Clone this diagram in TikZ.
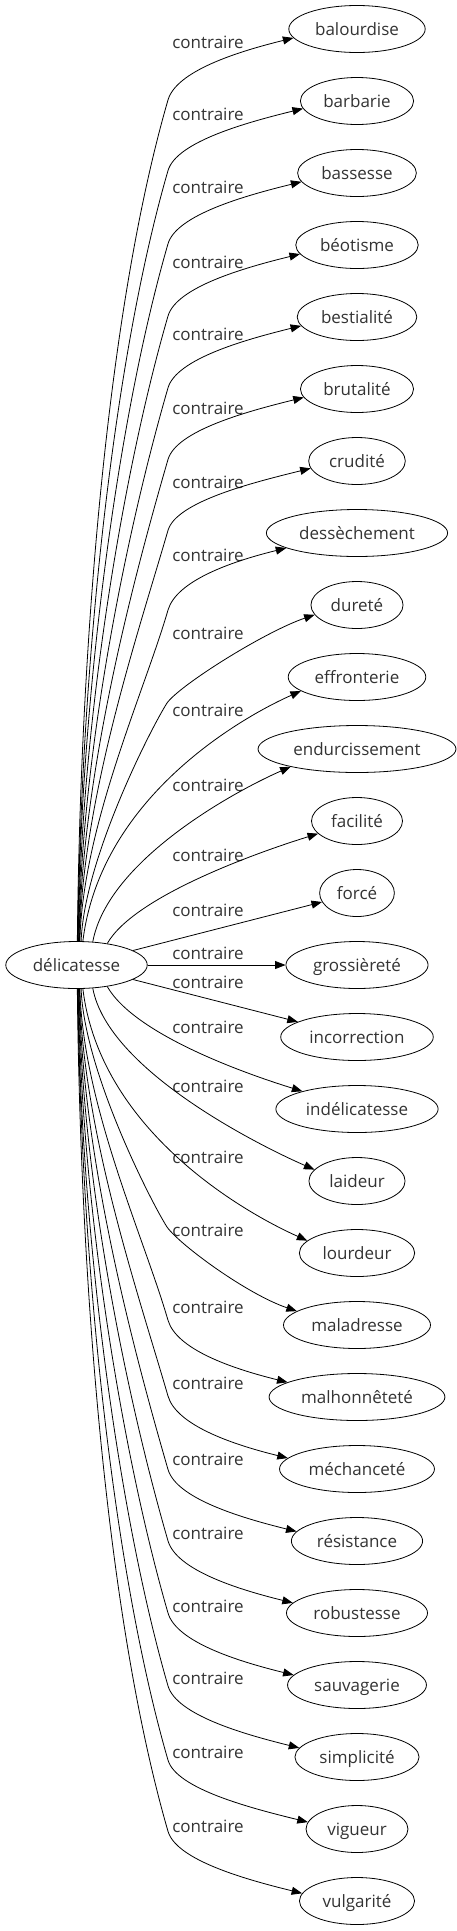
\documentclass[tikz,border=0pt]{standalone}
\usepackage{fontspec}
\setmainfont{Open Sans}
\usetikzlibrary{arrows.meta,calc,shapes.geometric}
\tikzset{
  word/.style={ellipse, draw, line width=0.8pt, inner xsep=6.3pt, inner ysep=1pt,
    minimum height=47pt, text height=14pt, text depth=2pt,
    font=\fontsize{17}{20}\selectfont, text=black!80},
  lab/.style={inner sep=0pt, text height=14pt, text depth=2pt,
    font=\fontsize{17}{20}\selectfont, text=black!80},
  edge/.style={line width=0.8pt, -{Triangle[length=10.5pt,width=8pt]}},
}
\newcommand\upedge[3]{\draw[edge] let \p1=(d.#2), \p2=(#1.#3), \n1={(\y2)-62-(\y1)} in
  (\p1) .. controls ({\x1+3},{\y1+0.35*\n1}) and ({168-0.0725*\n1},{\y2-62-0.25*\n1})
  .. (168,{\y2-62}) .. controls (176.4,{\y2-62+28.8}) and ({\x2-57},{\y2-14}) .. (\p2);}
\newcommand\lowedge[3]{\draw[edge] let \p1=(d.#2), \p2=(#1.#3), \n1={(\y1)-(\y2)-62} in
  (\p1) .. controls ({\x1+3},{\y1-0.35*\n1}) and ({168-0.0725*\n1},{\y2+62+0.25*\n1})
  .. (168,{\y2+62}) .. controls (176.4,{\y2+62-28.8}) and ({\x2-57},{\y2+14}) .. (\p2);}
\begin{document}
\begin{tikzpicture}[x=1pt,y=1pt]
\useasboundingbox (0,0) rectangle (457,-1931);
\node[word] (d) at (76.5,-965) {délicatesse};
\foreach \i/\w in {0/balourdise,1/barbarie,2/bassesse,3/béotisme,4/bestialité,5/brutalité,
  6/crudité,7/dessèchement,8/dureté,9/effronterie,10/endurcissement,11/facilité,12/forcé,
  13/grossièreté,14/incorrection,15/indélicatesse,16/laideur,17/lourdeur,18/maladresse,
  19/malhonnêteté,20/méchanceté,21/résistance,22/robustesse,23/sauvagerie,24/simplicité,
  25/vigueur,26/vulgarité}
  \node[word] (t\i) at (357,{-29-72*\i}) {\w};
\foreach \i/\yy in {0/42,1/114,2/187,3/262,4/334,5/408,6/482,7/555,8/633,9/710,10/785,
  11/855,12/910,13/953,14/982,15/1027,16/1086,17/1157,18/1230,19/1307,20/1383,21/1459,
  22/1533,23/1606,24/1678,25/1752,26/1826}
  \node[lab] (l\i) at (208,-\yy) {contraire};
% upper far edges
\upedge{t0}{88}{188}
\upedge{t1}{87}{188}
\upedge{t2}{87}{189}
\upedge{t3}{86}{189}
\upedge{t4}{85}{189}
\upedge{t5}{84}{189}
\upedge{t6}{83}{189}
\upedge{t7}{82}{192}
% upper near edges
\draw[edge] (d.79) .. controls (84,-860) and (150,-730) .. (167,-703)
  .. controls (180,-685) and +(-50,-17) .. (t8.193);
\draw[edge] (d.75) .. controls (100,-800) and +(-64,-28.5) .. (t9.194);
\draw[edge] (d.55) .. controls (108,-860) and +(-55,-24) .. (t10.195);
\draw[edge] (d.35) .. controls (135,-895) and +(-55,-17) .. (t11.198);
% straight edges
\draw[edge] (d) -- (t12);
\draw[edge] (d) -- (t13);
\draw[edge] (d) -- (t14);
% lower near edges
\draw[edge] (d.325) .. controls (135,-1035) and +(-55,17) .. (t15.162);
\draw[edge] (d.305) .. controls (108,-1070) and +(-55,24) .. (t16.165);
\draw[edge] (d.285) .. controls (100,-1130) and +(-64,28.5) .. (t17.166);
\draw[edge] (d.281) .. controls (84,-1070) and (150,-1200) .. (167,-1227)
  .. controls (180,-1245) and +(-50,17) .. (t18.167);
% lower far edges
\lowedge{t19}{278}{168}
\lowedge{t20}{277}{171}
\lowedge{t21}{276}{171}
\lowedge{t22}{275}{171}
\lowedge{t23}{274}{171}
\lowedge{t24}{273}{171}
\lowedge{t25}{273}{172}
\lowedge{t26}{272}{172}
\end{tikzpicture}
\end{document}
